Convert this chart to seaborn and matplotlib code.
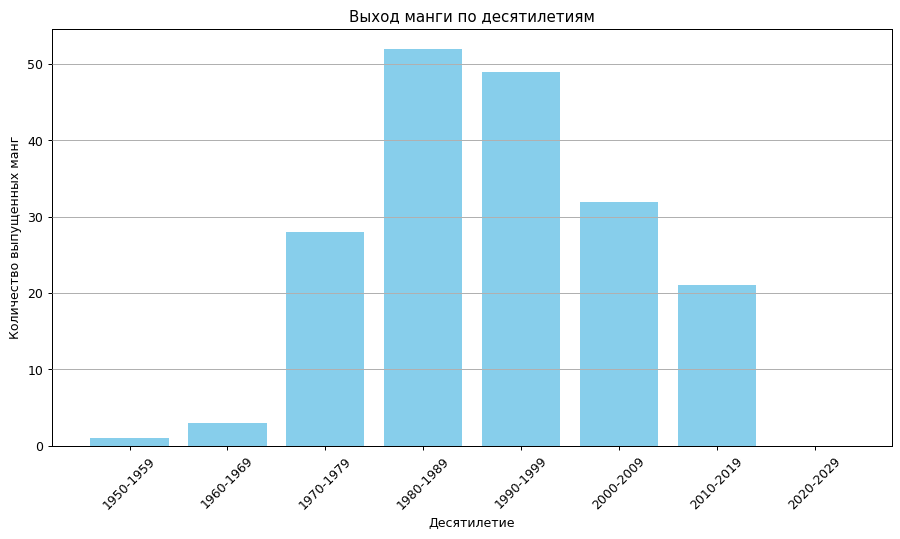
import matplotlib
matplotlib.use("Agg")
import matplotlib.pyplot as plt
import seaborn as sns
import pandas as pd

decades = ["1950-1959", "1960-1969", "1970-1979", "1980-1989",
           "1990-1999", "2000-2009", "2010-2019", "2020-2029"]
counts = [1, 3, 28, 52, 49, 32, 21, 0]

df = pd.DataFrame({"decade": decades, "count": counts})

fig, ax = plt.subplots(figsize=(10, 5.99), dpi=90)
sns.barplot(data=df, x="decade", y="count", color="skyblue", saturation=1,
            width=0.8, ax=ax)
# matplotlib-style 5% x margins instead of seaborn's tight categorical limits
n = len(decades)
span = (n - 1) + 0.8
ax.set_xlim(-0.4 - 0.05 * span, n - 1 + 0.4 + 0.05 * span)
ax.set_title("Выход манги по десятилетиям")
ax.set_xlabel("Десятилетие")
ax.set_ylabel("Количество выпущенных манг")
ax.tick_params(axis="x", rotation=45)
ax.grid(axis="y")
ax.set_axisbelow(False)
fig.subplots_adjust(left=0.058, right=0.991, top=0.946, bottom=0.173)
plt.savefig("out.png")
